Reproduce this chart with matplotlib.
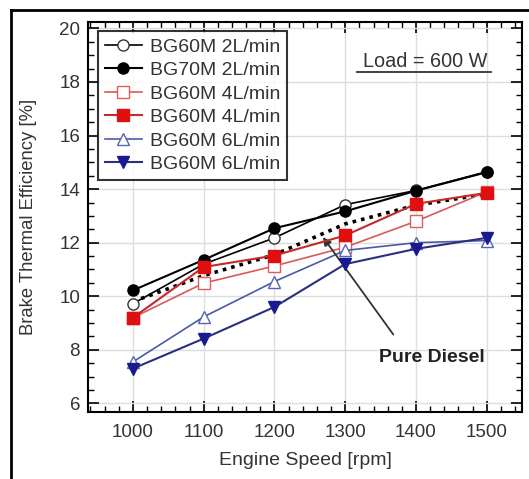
import numpy as np
import matplotlib
matplotlib.use("Agg")
import matplotlib.pyplot as plt
from matplotlib.ticker import MultipleLocator
from matplotlib.lines import Line2D

# engine speed sweep and brake thermal efficiency [%]
speed = [1000, 1100, 1200, 1300, 1400, 1500]
bg60_2 = [9.72, 11.2, 12.18, 13.42, 13.95, 14.65]
bg70_2 = [10.22, 11.36, 12.54, 13.17, 13.94, 14.63]
bg60_4a = [9.2, 10.49, 11.13, 11.83, 12.8, 13.9]
bg60_4b = [9.2, 11.09, 11.52, 12.27, 13.45, 13.86]
bg60_6a = [7.55, 9.23, 10.55, 11.71, 12.0, 12.08]
bg60_6b = [7.3, 8.42, 9.6, 11.2, 11.77, 12.18]
diesel = [9.8, 10.77, 11.55, 12.7, 13.4, 13.82]

labels = ["BG60M 2L/min", "BG70M 2L/min", "BG60M 4L/min",
          "BG60M 4L/min", "BG60M 6L/min", "BG60M 6L/min"]

plt.rcParams['font.family'] = ['Liberation Sans', 'DejaVu Sans']
txt = '#333333'

fig = plt.figure(figsize=(5.29, 4.79), dpi=100)
ax = fig.add_axes([0.167, 0.1405, 0.820, 0.8142])

# outer frame of the figure
fig.add_artist(Line2D([11/529, 11/529], [0, 1 - 10/479], transform=fig.transFigure,
                      color='black', lw=2))
fig.add_artist(Line2D([11/529, 1], [1 - 10/479, 1 - 10/479], transform=fig.transFigure,
                      color='black', lw=2))

ms = 8
ax.plot(speed, diesel, color='black', lw=2.6, linestyle=(0, (1, 1.4)), zorder=2)
ax.plot(speed, bg60_2, color='black', lw=1.2, marker='o', ms=ms, mfc='white',
        mec='#333333', label=labels[0], zorder=3)
ax.plot(speed, bg70_2, color='black', lw=1.5, marker='o', ms=ms, mfc='black',
        mec='black', label=labels[1], zorder=5)
ax.plot(speed, bg60_4a, color='#d85a5a', lw=1.2, marker='s', ms=ms, mfc='white',
        mec='#d86060', label=labels[2], zorder=3)
ax.plot(speed, bg60_4b, color='#c42a2a', lw=1.5, marker='s', ms=ms, mfc='#e01010',
        mec='#e01010', label=labels[3], zorder=5)
ax.plot(speed, bg60_6a, color='#4a5aa8', lw=1.2, marker='^', ms=ms, mfc='white',
        mec='#5565b0', label=labels[4], zorder=3)
ax.plot(speed, bg60_6b, color='#2a3080', lw=1.5, marker='v', ms=ms, mfc='#1a1a90',
        mec='#1a1a90', label=labels[5], zorder=5)

ax.set_xlim(937, 1550)
ax.set_ylim(5.69, 20.25)
ax.xaxis.set_major_locator(MultipleLocator(100))
ax.xaxis.set_minor_locator(MultipleLocator(20))
ax.yaxis.set_major_locator(MultipleLocator(2))
ax.yaxis.set_minor_locator(MultipleLocator(0.5))
ax.tick_params(which='both', direction='in', top=True, right=True, colors='black',
               labelcolor=txt, labelsize=13.5)
ax.tick_params(which='major', length=8, width=1.2)
ax.tick_params(which='minor', length=4, width=1.0)
ax.tick_params(axis='x', which='major', pad=9)
ax.tick_params(axis='y', which='major', pad=6)
ax.grid(True, which='major', color='#dddddd', lw=1.0)
ax.set_axisbelow(True)
for s in ax.spines.values():
    s.set_linewidth(1.5)

ax.set_xlabel("Engine Speed [rpm]", fontsize=14, color=txt, labelpad=8)
ax.set_ylabel("Brake Thermal Efficiency [%]", fontsize=13.3, color=txt, labelpad=16)

leg = ax.legend(loc='upper left', fontsize=14, frameon=True, fancybox=False,
                edgecolor='black', handlelength=1.9, handletextpad=0.4,
                labelspacing=0.3, borderpad=0.35, borderaxespad=0.5)
leg.get_frame().set_linewidth(1.5)
for t in leg.get_texts():
    t.set_color(txt)

# load condition note, underlined
ax.text(1413, 18.75, "Load = 600 W", fontsize=14.3, color=txt, ha='center', va='center')
ax.plot([1317, 1506], [18.38, 18.38], color=txt, lw=1.3)

ax.text(1422, 7.71, "Pure Diesel", fontsize=14, fontweight='bold', color='#222222',
        ha='center', va='center')
ax.annotate("", xy=(1268.5, 12.21), xytext=(1368, 8.57),
            arrowprops=dict(arrowstyle='-|>', color='#333333', lw=1.3,
                            shrinkA=0, shrinkB=0, mutation_scale=12))

fig.savefig("out.png", dpi=100)
